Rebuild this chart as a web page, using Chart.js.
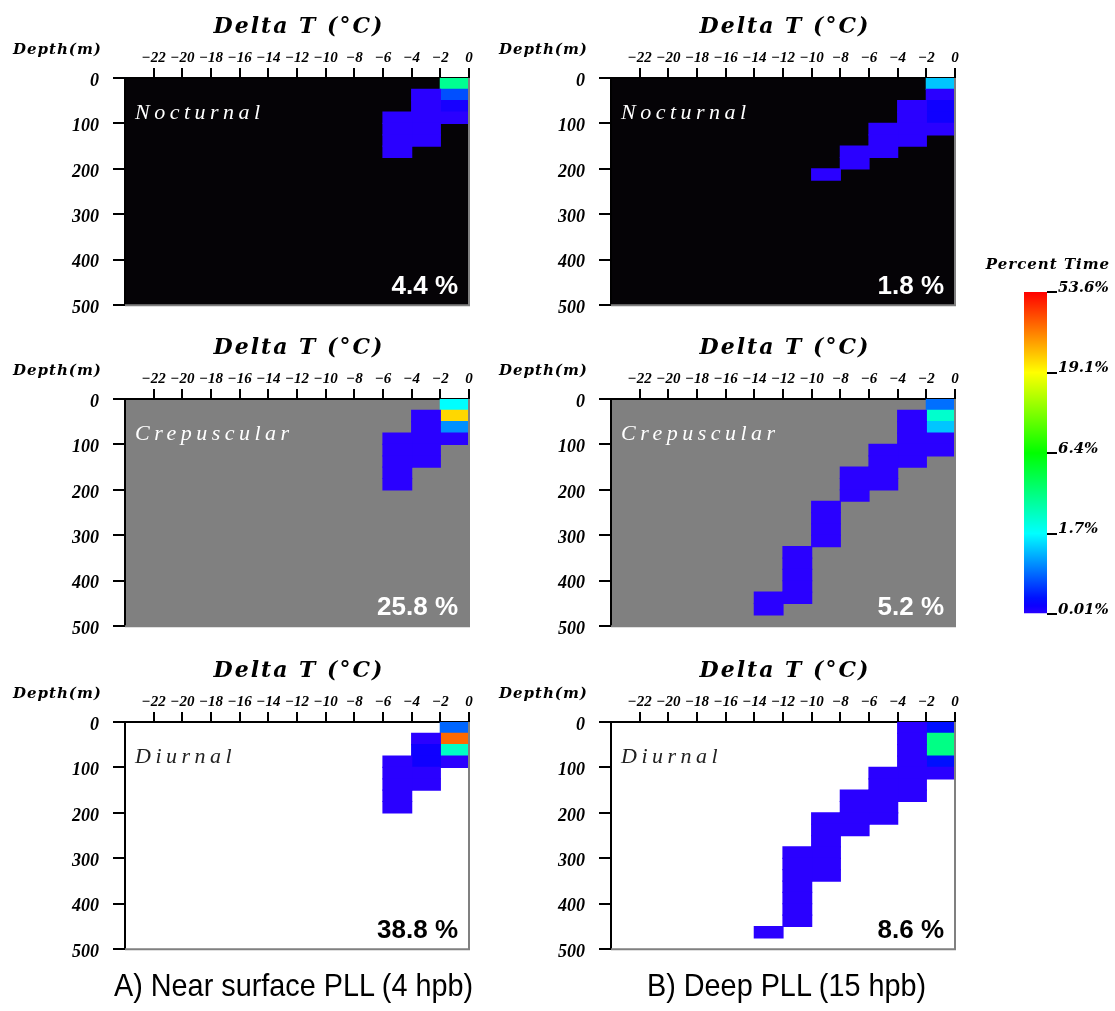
<!DOCTYPE html>
<html>
<head>
<meta charset="utf-8">
<script src="https://cdn.jsdelivr.net/npm/chart.js@4.4.1/dist/chart.umd.min.js"></script>
<style>
  body { margin: 0; background: #fff; }
  #page { position: relative; width: 1115px; height: 1011px; overflow: hidden; }
  .panel { position: absolute; }
  .caption {
    position: absolute; top: 967px; line-height: 36px; white-space: nowrap;
    font-family: "Liberation Sans", Arial, sans-serif; font-size: 32px; color: #000;
    transform: scaleX(0.9); transform-origin: 0 0;
  }
</style>
</head>
<body>
<div id="page">
  <canvas class="panel" id="nightNear" width="480" height="330" style="left:0;top:0"></canvas>
  <canvas class="panel" id="nightDeep" width="480" height="330" style="left:486px;top:0"></canvas>
  <canvas class="panel" id="duskNear" width="480" height="330" style="left:0;top:321px"></canvas>
  <canvas class="panel" id="duskDeep" width="480" height="330" style="left:486px;top:321px"></canvas>
  <canvas class="panel" id="dayNear" width="480" height="330" style="left:0;top:644px"></canvas>
  <canvas class="panel" id="dayDeep" width="480" height="330" style="left:486px;top:644px"></canvas>
  <canvas class="panel" id="scaleBar" width="140" height="380" style="left:975px;top:250px"></canvas>
  <div class="caption" style="left:114px">A) Near surface PLL (4 hpb)</div>
  <div class="caption" style="left:647px">B) Deep PLL (15 hpb)</div>
</div>
<script>
const tempTicks = [-22, -20, -18, -16, -14, -12, -10, -8, -6, -4, -2, 0];
const depthTicks = [0, 100, 200, 300, 400, 500];
const percentTicks = [0.01, 1.7, 6.4, 19.1, 53.6];
const percentLabels = ['0.01%', '1.7%', '6.4%', '19.1%', '53.6%'];

const periods = ['Nocturnal', 'Crepuscular', 'Diurnal'];
const nearShare = [4.4, 25.8, 38.8];
const deepShare = [1.8, 5.2, 8.6];

// each row: [left edge of the 2 degC bin, top of first 25 m bin, % time per bin going down]
const nocturnalNear = [
  [-2, 0, 3.0, 0.082, 0.014, 0.01],
  [-4, 25, 0.01, 0.01, 0.01, 0.01, 0.01],
  [-6, 75, 0.01, 0.01, 0.01, 0.01],
];
const nocturnalDeep = [
  [-2, 0, 0.64, 0.01, 0.016, 0.016, 0.01],
  [-4, 50, 0.01, 0.01, 0.01, 0.01],
  [-6, 100, 0.01, 0.01, 0.01],
  [-8, 150, 0.01, 0.01],
  [-10, 200, 0.01],
];
const crepuscularNear = [
  [-2, 0, 1.7, 22.5, 0.25, 0.01],
  [-4, 25, 0.01, 0.01, 0.01, 0.01, 0.01],
  [-6, 75, 0.01, 0.01, 0.01, 0.01, 0.01],
];
const crepuscularDeep = [
  [-2, 0, 0.14, 2.2, 0.64, 0.01, 0.01],
  [-4, 25, 0.01, 0.01, 0.01, 0.01, 0.01],
  [-6, 100, 0.01, 0.01, 0.01, 0.01],
  [-8, 150, 0.01, 0.01, 0.01],
  [-10, 225, 0.01, 0.01, 0.01, 0.01],
  [-12, 325, 0.01, 0.01, 0.01, 0.01, 0.01],
  [-14, 425, 0.01, 0.01],
];
const diurnalNear = [
  [-2, 0, 0.12, 35, 2.3, 0.01],
  [-4, 25, 0.01, 0.016, 0.016, 0.01, 0.01],
  [-6, 75, 0.01, 0.01, 0.01, 0.01, 0.01],
];
const diurnalDeep = [
  [-2, 0, 0.027, 3.2, 3.2, 0.027, 0.01],
  [-4, 0, 0.01, 0.01, 0.01, 0.01, 0.01, 0.01, 0.01],
  [-6, 100, 0.01, 0.01, 0.01, 0.01, 0.01],
  [-8, 150, 0.01, 0.01, 0.01, 0.01],
  [-10, 200, 0.01, 0.01, 0.01, 0.01, 0.01, 0.01],
  [-12, 275, 0.01, 0.01, 0.01, 0.01, 0.01, 0.01, 0.01],
  [-14, 450, 0.01],
];

const binTemp = 2;
const binDepth = 25;

// position along the colour bar: one unit per tick step, log spaced in between
function percentPos(v) {
  if (v <= percentTicks[0]) return 0;
  for (let i = 1; i < percentTicks.length; i++) {
    if (v <= percentTicks[i]) {
      const lo = Math.log(percentTicks[i - 1]);
      const hi = Math.log(percentTicks[i]);
      return i - 1 + (Math.log(v) - lo) / (hi - lo);
    }
  }
  return percentTicks.length - 1;
}

// violet -> blue -> cyan -> green -> yellow -> red
function rampColor(p) {
  const hue = p < 1 ? 250 - 70 * p : 180 - 60 * (p - 1);
  return `hsl(${hue.toFixed(1)}, 100%, 50%)`;
}

function toCells(cols) {
  const out = [];
  cols.forEach(([t, top, ...vals]) => {
    vals.forEach((v, i) => {
      out.push({ x: [t, t + binTemp], y: top + binDepth / 2 + binDepth * i, v: v });
    });
  });
  return out;
}

const panelDecor = {
  id: 'panelDecor',
  beforeDraw(chart, args, o) {
    const { ctx, chartArea: a } = chart;
    ctx.save();
    ctx.fillStyle = o.bg;
    ctx.fillRect(a.left, a.top, a.right - a.left, a.bottom - a.top);
    ctx.restore();
  },
  afterDraw(chart, args, o) {
    const { ctx, chartArea: a } = chart;
    ctx.save();
    // right + bottom edge of the box
    ctx.strokeStyle = '#808080';
    ctx.lineWidth = 2;
    ctx.beginPath();
    ctx.moveTo(a.right, a.top);
    ctx.lineTo(a.right, a.bottom);
    ctx.lineTo(a.left, a.bottom);
    ctx.stroke();

    ctx.fillStyle = '#000';
    ctx.textBaseline = 'middle';
    ctx.textAlign = 'center';
    ctx.font = 'italic bold 22px "DejaVu Serif"';
    ctx.letterSpacing = '2px';
    ctx.fillText('Delta T (°C)', (a.left + a.right) / 2 + 2, a.top - 51);

    ctx.textAlign = 'left';
    ctx.font = 'italic bold 15px "DejaVu Serif"';
    ctx.letterSpacing = '1px';
    ctx.fillText('Depth(m)', a.left - 112, a.top - 28);

    ctx.fillStyle = o.nameColor;
    ctx.font = 'italic 22px "Liberation Serif"';
    ctx.letterSpacing = '4.5px';
    ctx.fillText(o.name, a.left + 10, a.top + 35);

    ctx.fillStyle = o.shareColor;
    ctx.font = 'bold 26px "Liberation Sans"';
    ctx.letterSpacing = '0px';
    ctx.textAlign = 'right';
    ctx.textBaseline = 'alphabetic';
    ctx.fillText(o.share.toFixed(1) + ' %', a.right - 11, a.bottom - 11);
    ctx.restore();
  }
};

function makePanel(id, cols, decor) {
  return new Chart(document.getElementById(id), {
    type: 'bar',
    data: {
      datasets: [{
        data: toCells(cols),
        backgroundColor: (c) => (c.raw ? rampColor(percentPos(c.raw.v)) : 'transparent'),
        borderWidth: 0,
        inflateAmount: 0.6,
        barPercentage: 1,
        categoryPercentage: 1,
      }],
    },
    options: {
      indexAxis: 'y',
      responsive: false,
      animation: false,
      events: [],
      layout: { padding: { left: 0, top: 0, right: 11, bottom: 24 } },
      plugins: {
        legend: { display: false },
        tooltip: { enabled: false },
        panelDecor: decor,
      },
      scales: {
        x: {
          type: 'linear',
          position: 'top',
          min: -24,
          max: 0,
          afterBuildTicks: (s) => { s.ticks = tempTicks.map((v) => ({ value: v })); },
          afterFit: (s) => { s.height = 78; },
          ticks: {
            autoSkip: false,
            maxRotation: 0,
            padding: 1,
            color: '#000',
            font: { family: 'Liberation Serif', size: 15, style: 'italic', weight: 'bold' },
            callback: (v) => (v < 0 ? '\u2212' + Math.abs(v) : String(v)),
          },
          grid: { drawOnChartArea: false, tickLength: 10, color: '#000', lineWidth: 2 },
          border: { display: true, color: '#000', width: 2 },
        },
        y: {
          type: 'linear',
          reverse: true,
          offset: false,
          min: 0,
          max: 500,
          afterBuildTicks: (s) => { s.ticks = depthTicks.map((v) => ({ value: v })); },
          afterFit: (s) => { s.width = 125; },
          ticks: {
            padding: 14,
            labelOffset: 3,
            color: '#000',
            font: { family: 'Liberation Serif', size: 18, style: 'italic', weight: 'bold' },
          },
          grid: { offset: false, drawOnChartArea: false, tickLength: 12, color: '#000', lineWidth: 2 },
          border: { display: true, color: '#000', width: 2 },
        },
      },
    },
    plugins: [panelDecor],
  });
}

const rowStyle = [
  { bg: '#050306', nameColor: '#fff', shareColor: '#fff' },
  { bg: '#808080', nameColor: '#fff', shareColor: '#fff' },
  { bg: '#ffffff', nameColor: '#222', shareColor: '#000' },
];
const nearCells = [nocturnalNear, crepuscularNear, diurnalNear];
const deepCells = [nocturnalDeep, crepuscularDeep, diurnalDeep];
const nearIds = ['nightNear', 'duskNear', 'dayNear'];
const deepIds = ['nightDeep', 'duskDeep', 'dayDeep'];

periods.forEach((name, r) => {
  makePanel(nearIds[r], nearCells[r], { ...rowStyle[r], name: name, share: nearShare[r] });
  makePanel(deepIds[r], deepCells[r], { ...rowStyle[r], name: name, share: deepShare[r] });
});

// colour bar
const barTitle = {
  id: 'barTitle',
  afterDraw(chart) {
    const { ctx, chartArea: a } = chart;
    ctx.save();
    ctx.fillStyle = '#000';
    ctx.font = 'italic bold 15px "DejaVu Serif"';
    ctx.letterSpacing = '1px';
    ctx.textAlign = 'center';
    ctx.textBaseline = 'middle';
    ctx.fillText('Percent Time', a.left + 24, a.top - 27);
    ctx.restore();
  }
};

new Chart(document.getElementById('scaleBar'), {
  type: 'bar',
  data: {
    labels: [''],
    datasets: [{
      data: [[0, percentTicks.length - 1]],
      barPercentage: 1,
      categoryPercentage: 1,
      borderWidth: 0,
      backgroundColor: (c) => {
        const { ctx, chartArea } = c.chart;
        if (!chartArea) return 'transparent';
        const g = ctx.createLinearGradient(0, chartArea.bottom, 0, chartArea.top);
        const steps = 40;
        const span = percentTicks.length - 1;
        for (let k = 0; k <= steps; k++) g.addColorStop(k / steps, rampColor(span * k / steps));
        return g;
      },
    }],
  },
  options: {
    responsive: false,
    animation: false,
    events: [],
    layout: { padding: { left: 49, top: 42, right: 0, bottom: 16 } },
    plugins: { legend: { display: false }, tooltip: { enabled: false } },
    scales: {
      x: { display: false },
      y: {
        position: 'right',
        min: 0,
        max: percentTicks.length - 1,
        afterBuildTicks: (s) => { s.ticks = percentLabels.map((_, i) => ({ value: i })); },
        afterFit: (s) => { s.width = 68; },
        ticks: {
          padding: 1,
          labelOffset: -4,
          color: '#000',
          font: { family: 'DejaVu Serif', size: 15, style: 'italic', weight: 'bold' },
          callback: (v) => percentLabels[v],
        },
        grid: { drawOnChartArea: false, tickLength: 10, color: '#000', lineWidth: 2 },
        border: { display: false },
      },
    },
  },
  plugins: [barTitle],
});
</script>
</body>
</html>
